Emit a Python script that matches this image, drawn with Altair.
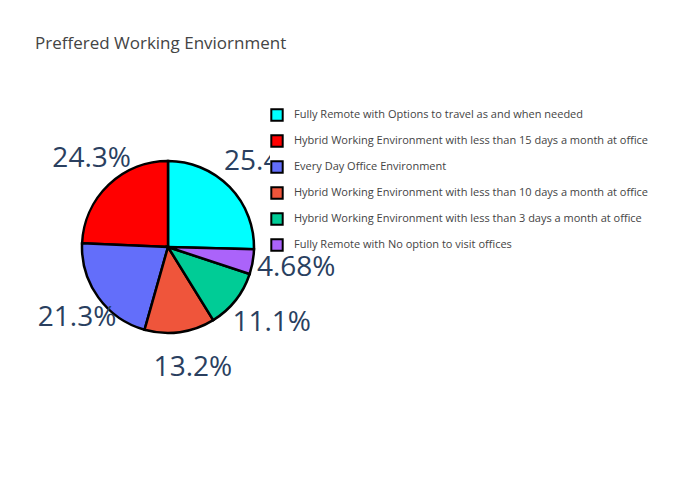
import altair as alt
import pandas as pd

categories = [
    "Fully Remote with Options to travel as and when needed",
    "Hybrid Working Environment with less than 15 days a month at office",
    "Every Day Office Environment",
    "Hybrid Working Environment with less than 10 days a month at office",
    "Hybrid Working Environment with less than 3 days a month at office",
    "Fully Remote with No option to visit offices",
]
shares = [25.4, 24.3, 21.3, 13.2, 11.1, 4.68]
labels = ["25.4%", "24.3%", "21.3%", "13.2%", "11.1%", "4.68%"]
colors = ["#00ffff", "#ff0000", "#636efa", "#ef553b", "#00cc96", "#ab63fa"]
# clockwise drawing order from 12 o'clock
draw_order = [0, 5, 4, 3, 2, 1]

df = pd.DataFrame({"cat": categories, "share": shares, "label": labels, "ord": draw_order})

cx, cy = 160, 239
base = alt.Chart(df).encode(
    theta=alt.Theta("share:Q", stack=True),
    order=alt.Order("ord:Q"),
)

pie = base.mark_arc(outerRadius=86, stroke="black", strokeWidth=2.5).encode(
    x=alt.value(cx), y=alt.value(cy),
    color=alt.Color("cat:N", scale=alt.Scale(domain=categories, range=colors),
                    legend=alt.Legend(title=None, orient="none", legendX=262, legendY=100,
                                      symbolType="square", symbolSize=130,
                                      symbolStrokeColor="black", symbolStrokeWidth=2,
                                      labelFontSize=11, labelColor="#444", labelOffset=10,
                                      labelLimit=500, labelFont="Open Sans",
                                      fillColor="white", rowPadding=6)),
)

text = base.mark_text(radius=122, fontSize=28, color="#2a3f5f", font="Open Sans").encode(
    x=alt.value(cx + 8), y=alt.value(cy), text="label:N"
)

chart = (pie + text).properties(
    width=684, height=484, autosize=alt.AutoSizeParams(type="none"), padding=0,
    title=alt.TitleParams("Preffered Working Enviornment", anchor="start", offset=-45,
                          dx=27, fontSize=17, fontWeight="normal", color="#444",
                          font="Open Sans"),
).configure_view(stroke=None)

chart.save("out.html", embed_options={"renderer": "svg", "actions": False})
